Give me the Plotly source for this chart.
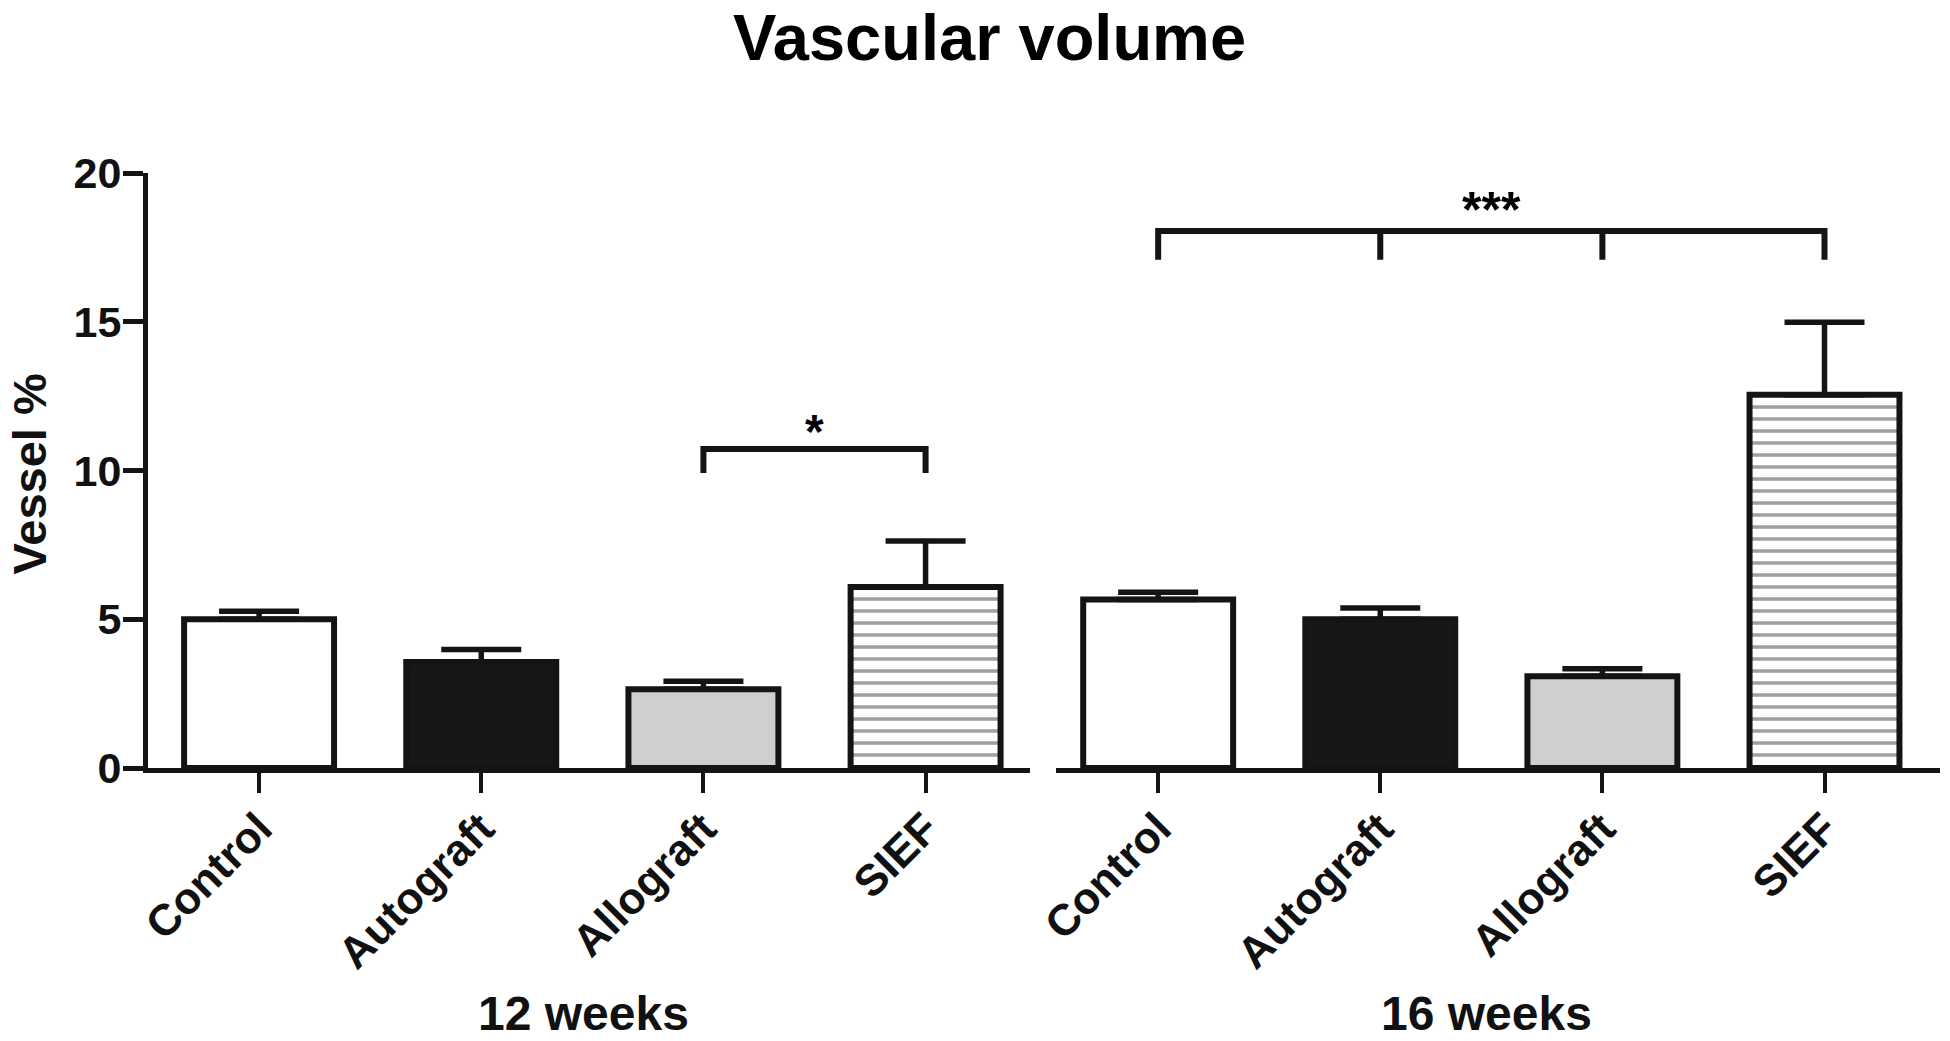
import plotly.graph_objects as go

# ---- data ----
categories = ["Control", "Autograft", "Allograft", "SIEF"]
weeks12_mean = [5.0, 3.56, 2.65, 6.08]
weeks12_sem = [0.27, 0.42, 0.27, 1.55]
weeks16_mean = [5.66, 5.0, 3.08, 12.55]
weeks16_sem = [0.25, 0.38, 0.26, 2.43]
group_titles = ["12 weeks", "16 weeks"]
y_ticks = [0, 5, 10, 15, 20]

# significance brackets
sig12_x = ["Allograft", "Allograft", "SIEF", "SIEF"]
sig12_y = [9.92, 10.72, 10.72, 9.92]
sig12_label = "*"
sig16_x = ["Control", "Control", "Autograft", "Autograft", "Autograft",
           "Allograft", "Allograft", "Allograft", "SIEF", "SIEF"]
sig16_y = [17.08, 18.05, 18.05, 17.08, 18.05, 18.05, 17.08, 18.05, 18.05, 17.08]
sig16_label = "***"

# ---- styles ----
fill_colors = ["#ffffff", "#171717", "#cfcfcf", "#ffffff"]
pattern_shapes = ["", "", "", "-"]
INK = "#141414"
FONT = "Liberation Sans, Arial, sans-serif"

W, H = 1950, 1041
PLOT_L, PLOT_R, PLOT_T, PLOT_B = 148, 1940, 173, 768


def px_x(px):
    return (px - PLOT_L) / (PLOT_R - PLOT_L)


def px_y(py):
    return (PLOT_B - py) / (PLOT_B - PLOT_T)


fig = go.Figure()


def add_group(means, sems, xaxis):
    fig.add_trace(go.Bar(
        x=categories, y=means, xaxis=xaxis, yaxis="y",
        width=0.675,
        marker=dict(
            color=fill_colors,
            line=dict(color=INK, width=6),
            pattern=dict(shape=pattern_shapes, fgcolor="#000000",
                         bgcolor="#ffffff", size=12, solidity=0.3),
        ),
        error_y=dict(type="data", symmetric=False, array=sems,
                     arrayminus=[0] * len(sems),
                     color=INK, thickness=5.5, width=40),
        hoverinfo="x+y",
    ))


add_group(weeks12_mean, weeks12_sem, "x")
add_group(weeks16_mean, weeks16_sem, "x2")

fig.add_trace(go.Scatter(x=sig12_x, y=sig12_y, xaxis="x", yaxis="y",
                         mode="lines", line=dict(color=INK, width=6),
                         hoverinfo="skip"))
fig.add_trace(go.Scatter(x=sig16_x, y=sig16_y, xaxis="x2", yaxis="y",
                         mode="lines", line=dict(color=INK, width=6),
                         hoverinfo="skip"))

xaxis_common = dict(
    type="category", categoryorder="array", categoryarray=categories,
    showline=True, linecolor=INK, linewidth=5,
    ticks="outside", ticklen=20, tickwidth=4, tickcolor=INK,
    tickangle=-45, ticklabelstandoff=-8,
    tickfont=dict(family=FONT, size=44, color="#111111", weight="bold"),
    showgrid=False, zeroline=False, anchor="y", fixedrange=True,
)

fig.update_layout(
    width=W, height=H,
    margin=dict(l=PLOT_L, r=W - PLOT_R, t=PLOT_T, b=H - PLOT_B),
    paper_bgcolor="white", plot_bgcolor="white",
    showlegend=False,
    xaxis=dict(domain=[0, px_x(1030)], range=[-0.5, 3.47], **xaxis_common),
    xaxis2=dict(domain=[px_x(1056), 1.0], range=[-0.46, 3.52], **xaxis_common),
    yaxis=dict(
        range=[0, 20], tickvals=y_ticks, ticktext=[str(v) for v in y_ticks],
        showline=True, linecolor=INK, linewidth=5,
        ticks="outside", ticklen=20, tickwidth=5, tickcolor=INK,
        ticklabelstandoff=-7,
        tickfont=dict(family=FONT, size=43, color="#111111", weight="bold"),
        showgrid=False, zeroline=False, anchor="x", fixedrange=True,
    ),
    annotations=[
        dict(text="Vascular volume", xref="paper", yref="paper",
             x=px_x(989), y=px_y(0), xanchor="center", yanchor="top",
             borderpad=0, showarrow=False,
             font=dict(family=FONT, size=65, color="#000000", weight="bold")),
        dict(text="Vessel %", xref="paper", yref="paper",
             x=px_x(1), y=px_y(474), xanchor="left", yanchor="middle",
             textangle=-90, borderpad=0, showarrow=False,
             font=dict(family=FONT, size=47, color="#111111", weight="bold")),
        dict(text=group_titles[0], xref="paper", yref="paper",
             x=px_x(583), y=px_y(1041), xanchor="center", yanchor="bottom",
             borderpad=0, showarrow=False,
             font=dict(family=FONT, size=48, color="#111111", weight="bold")),
        dict(text=group_titles[1], xref="paper", yref="paper",
             x=px_x(1486), y=px_y(1041), xanchor="center", yanchor="bottom",
             borderpad=0, showarrow=False,
             font=dict(family=FONT, size=48, color="#111111", weight="bold")),
        dict(text=sig12_label, xref="x", yref="y", x=2.5, y=11.3,
             xanchor="center", yanchor="middle", showarrow=False,
             font=dict(family=FONT, size=48, color="#000000", weight="bold")),
        dict(text=sig16_label, xref="x2", yref="y", x=1.5, y=18.75,
             xanchor="center", yanchor="middle", showarrow=False,
             font=dict(family=FONT, size=50, color="#000000", weight="bold")),
    ],
)

# remove the default page margin so the figure fills the window exactly
fig.write_html("out.html", config={"displayModeBar": False},
               post_script="document.body.style.margin='0px';")
